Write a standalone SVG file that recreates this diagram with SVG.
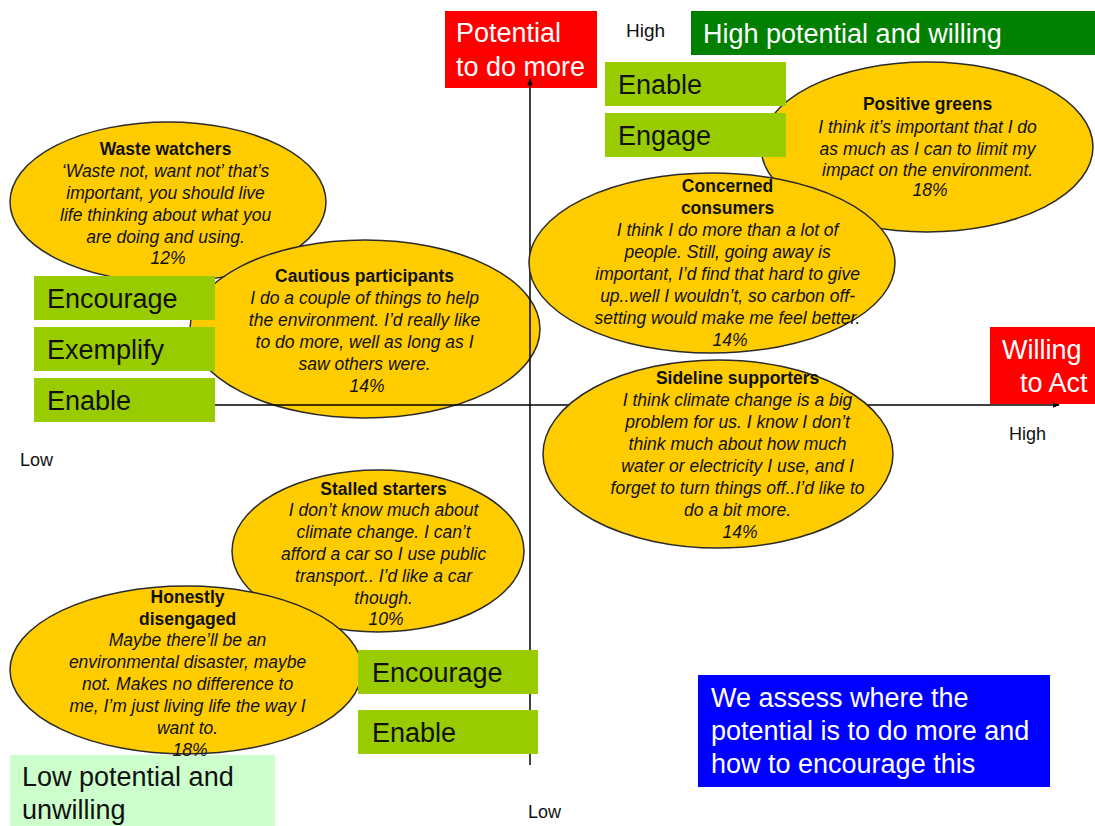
<svg xmlns="http://www.w3.org/2000/svg" width="1095" height="826" viewBox="0 0 1095 826">
  <defs>
    <marker id="arrow" viewBox="0 0 10 10" refX="9" refY="5" markerWidth="7" markerHeight="7" orient="auto" markerUnits="userSpaceOnUse">
      <path d="M0,1 L10,5 L0,9 z" fill="#000"/>
    </marker>
    <style>
      text { font-family: "Liberation Sans", Arial, sans-serif; }
      .seg { fill: #ffcc00; stroke: #2a2a2a; stroke-width: 1.5; }
      .segtxt { font-size: 17.5px; fill: #111; text-anchor: middle; }
      .segtxt .t { font-weight: bold; }
      .segtxt .q { font-style: italic; }
      .act { fill: #99cc00; }
      .acttxt { font-size: 27px; fill: #111; }
      .red { fill: #ff0000; }
      .big { font-size: 27px; fill: #fff; }
      .small { font-size: 18px; fill: #111; }
      .axis { stroke: #000; stroke-width: 1.5; fill: none; }
    </style>
  </defs>
  <rect width="1095" height="826" fill="#fff"/>

  <!-- axis captions -->
  <g id="axis-potential">
    <rect class="red" x="445" y="11" width="152" height="77"/>
    <text class="big" x="456" y="42">Potential</text>
    <text class="big" x="456" y="76">to do more</text>
  </g>
  <g id="axis-willing">
    <rect class="red" x="990" y="327" width="105" height="77"/>
    <text class="big" x="1002" y="359">Willing</text>
    <text class="big" x="1020" y="392">to Act</text>
  </g>
  <text class="small" x="626" y="37" style="font-size:19px">High</text>
  <text class="small" x="1009" y="440">High</text>
  <text class="small" x="20" y="466">Low</text>
  <text class="small" x="528" y="818">Low</text>

  <!-- lower-left quadrant header sits behind the segments -->
  <g id="low-potential">
    <rect x="10" y="755" width="265" height="71" fill="#ccffcc"/>
    <text class="acttxt" x="22" y="786">Low potential and</text>
    <text class="acttxt" x="22" y="819">unwilling</text>
  </g>

  <!-- lower-left segments -->
  <g id="waste-watchers">
    <ellipse class="seg" cx="168" cy="202" rx="158" ry="80"/>
    <text class="segtxt">
      <tspan class="t" x="168" y="155">Waste watchers</tspan>
      <tspan class="q" x="168" y="177">‘Waste not, want not’ that’s</tspan>
      <tspan class="q" x="168" y="199">important, you should live</tspan>
      <tspan class="q" x="168" y="221">life thinking about what you</tspan>
      <tspan class="q" x="168" y="243">are doing and using.</tspan>
      <tspan class="q" x="168" y="264">12%</tspan>
    </text>
  </g>
  <g id="cautious-participants">
    <ellipse class="seg" cx="365" cy="329" rx="175" ry="89"/>
    <text class="segtxt">
      <tspan class="t" x="367" y="282">Cautious participants</tspan>
      <tspan class="q" x="367" y="304">I do a couple of things to help</tspan>
      <tspan class="q" x="367" y="326">the environment. I’d really like</tspan>
      <tspan class="q" x="367" y="348">to do more, well as long as I</tspan>
      <tspan class="q" x="367" y="370">saw others were.</tspan>
      <tspan class="q" x="367" y="392">14%</tspan>
    </text>
  </g>
  <g id="stalled-starters">
    <ellipse class="seg" cx="378" cy="551" rx="146" ry="81"/>
    <text class="segtxt">
      <tspan class="t" x="386" y="495">Stalled starters</tspan>
      <tspan class="q" x="386" y="516">I don’t know much about</tspan>
      <tspan class="q" x="386" y="538">climate change. I can’t</tspan>
      <tspan class="q" x="386" y="560">afford a car so I use public</tspan>
      <tspan class="q" x="386" y="582">transport.. I’d like a car</tspan>
      <tspan class="q" x="386" y="604">though.</tspan>
      <tspan class="q" x="386" y="625">10%</tspan>
    </text>
  </g>
  <g id="honestly-disengaged">
    <ellipse class="seg" cx="186" cy="670" rx="176" ry="84"/>
    <text class="segtxt">
      <tspan class="t" x="190" y="603">Honestly</tspan>
      <tspan class="t" x="190" y="625">disengaged</tspan>
      <tspan class="q" x="190" y="646">Maybe there’ll be an</tspan>
      <tspan class="q" x="190" y="668">environmental disaster, maybe</tspan>
      <tspan class="q" x="190" y="690">not. Makes no difference to</tspan>
      <tspan class="q" x="190" y="712">me, I’m just living life the way I</tspan>
      <tspan class="q" x="190" y="734">want to.</tspan>
      <tspan class="q" x="190" y="756">18%</tspan>
    </text>
  </g>

  <!-- axes -->
  <g id="connectors">
    <line class="axis" x1="530" y1="765" x2="530" y2="79" marker-end="url(#arrow)"/>
    <line class="axis" x1="215" y1="405" x2="1059" y2="405" marker-end="url(#arrow)"/>
  </g>

  <!-- upper/right segments -->
  <g id="positive-greens">
    <ellipse class="seg" cx="927" cy="147" rx="166" ry="85"/>
    <text class="segtxt">
      <tspan class="t" x="930" y="110">Positive greens</tspan>
      <tspan class="q" x="930" y="133">I think it’s important that I do</tspan>
      <tspan class="q" x="930" y="155">as much as I can to limit my</tspan>
      <tspan class="q" x="930" y="176">impact on the environment.</tspan>
      <tspan class="q" x="930" y="196">18%</tspan>
    </text>
  </g>
  <g id="concerned-consumers">
    <ellipse class="seg" cx="712" cy="263" rx="183" ry="90"/>
    <text class="segtxt">
      <tspan class="t" x="730" y="192">Concerned</tspan>
      <tspan class="t" x="730" y="214">consumers</tspan>
      <tspan class="q" x="730" y="236">I think I do more than a lot of</tspan>
      <tspan class="q" x="730" y="258">people. Still, going away is</tspan>
      <tspan class="q" x="730" y="280">important, I’d find that hard to give</tspan>
      <tspan class="q" x="730" y="302">up..well I wouldn’t, so carbon off-</tspan>
      <tspan class="q" x="730" y="324">setting would make me feel better.</tspan>
      <tspan class="q" x="730" y="346">14%</tspan>
    </text>
  </g>
  <g id="sideline-supporters">
    <ellipse class="seg" cx="718" cy="454" rx="175" ry="94"/>
    <text class="segtxt">
      <tspan class="t" x="740" y="384">Sideline supporters</tspan>
      <tspan class="q" x="740" y="406">I think climate change is a big</tspan>
      <tspan class="q" x="740" y="428">problem for us.  I know I don’t</tspan>
      <tspan class="q" x="740" y="450">think much about how much</tspan>
      <tspan class="q" x="740" y="472">water or electricity I use, and I</tspan>
      <tspan class="q" x="740" y="494">forget to turn things off..I’d like to</tspan>
      <tspan class="q" x="740" y="516">do a bit more.</tspan>
      <tspan class="q" x="740" y="538">14%</tspan>
    </text>
  </g>

  <!-- upper-right quadrant header -->
  <g id="high-potential">
    <rect x="691" y="11" width="404" height="44" fill="#008000"/>
    <text class="big" x="703" y="43">High potential and willing</text>
  </g>

  <!-- actions -->
  <g id="actions-top">
    <rect class="act" x="605" y="62" width="181" height="44"/>
    <text class="acttxt" x="618" y="94">Enable</text>
    <rect class="act" x="605" y="113" width="181" height="44"/>
    <text class="acttxt" x="618" y="145">Engage</text>
  </g>
  <g id="actions-left">
    <rect class="act" x="34" y="276" width="181" height="44"/>
    <text class="acttxt" x="47" y="308">Encourage</text>
    <rect class="act" x="34" y="327" width="181" height="44"/>
    <text class="acttxt" x="47" y="359">Exemplify</text>
    <rect class="act" x="34" y="378" width="181" height="44"/>
    <text class="acttxt" x="47" y="410">Enable</text>
  </g>
  <g id="actions-bottom">
    <rect class="act" x="358" y="650" width="180" height="44"/>
    <text class="acttxt" x="372" y="682">Encourage</text>
    <rect class="act" x="358" y="710" width="180" height="44"/>
    <text class="acttxt" x="372" y="742">Enable</text>
  </g>

  <!-- summary note -->
  <g id="summary">
    <rect x="698" y="675" width="352" height="112" fill="#0000ff"/>
    <text class="big" x="711" y="707">We assess where the</text>
    <text class="big" x="711" y="740">potential is to do more and</text>
    <text class="big" x="711" y="773">how to encourage this</text>
  </g>
</svg>
